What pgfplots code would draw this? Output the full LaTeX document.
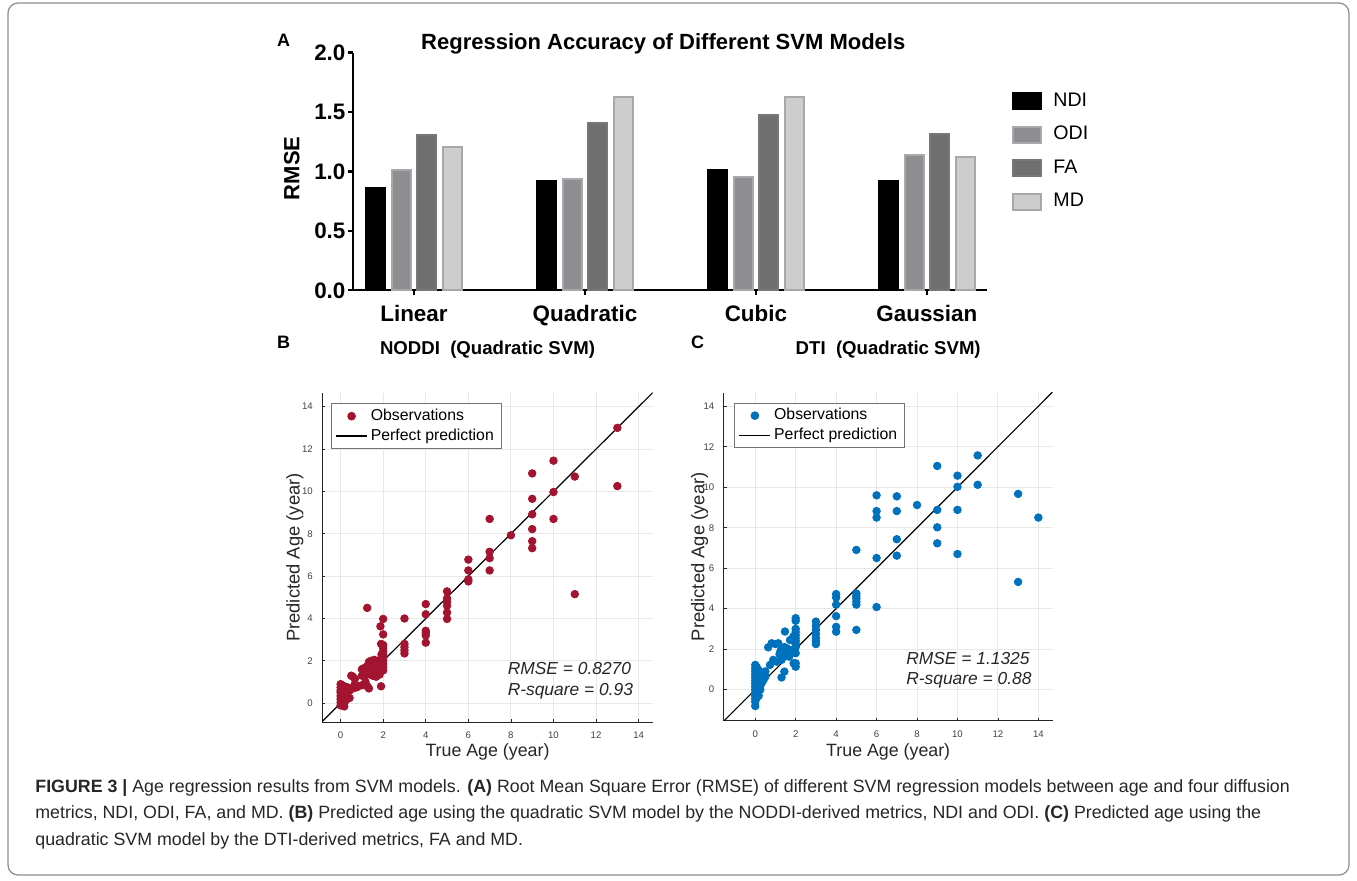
\documentclass[border=0pt]{standalone}
\usepackage{pgfplots}
\pgfplotsset{compat=1.18}
\usepackage{fontspec}
\setmainfont{Liberation Sans}
\definecolor{odi}{HTML}{8E8E92}
\definecolor{odiedge}{HTML}{A9A9AC}
\definecolor{fa}{HTML}{6F6F6F}
\definecolor{faedge}{HTML}{777777}
\definecolor{md}{HTML}{CDCDCD}
\definecolor{mdedge}{HTML}{A8A8A8}
\definecolor{nodred}{HTML}{A2142F}
\definecolor{dtiblue}{HTML}{0072BD}
\definecolor{axgray}{HTML}{262626}
\pgfplotsset{/pgf/number format/assume math mode=true,
  /pgfplots/ybar legend/.style={/pgfplots/legend image code/.code={\draw[##1] (0pt,-4pt) rectangle (14pt,4pt); \path (17.5pt,0pt);}},
  scatterax/.style={
    anchor=south west, scale only axis,
    axis x line*=bottom, axis y line*=left,
    axis line style={-, color=axgray, line width=0.5pt},
    xtick={0,2,...,14}, ytick={0,2,...,14},
    grid=major, major grid style={color=black!9, line width=0.45pt},
    tick align=inside, major tick length=1.5pt, tick style={axgray, line width=0.4pt},
    ticklabel style={font=\fontsize{4.8}{5}\selectfont, text=black!75},
    xticklabel style={yshift=-1.4pt}, yticklabel style={xshift=-1.2pt},
    xlabel style={font=\fontsize{8.9}{10}\selectfont, text=axgray},
    ylabel style={font=\fontsize{9.2}{10}\selectfont, text=axgray},
    title style={font=\fontsize{9.3}{10}\selectfont\bfseries, anchor=base, at={(axis description cs:0.5,1.081)}},
    legend cell align=left,
    legend image code/.code={\draw[mark repeat=2,mark phase=2,##1] plot coordinates {(0pt,0pt) (7.75pt,0pt) (15.5pt,0pt)};},
    legend style={anchor=north west, draw=black!55, line width=0.5pt, fill=white,
      font=\fontsize{7.9}{9}\selectfont, inner xsep=2pt, inner ysep=1pt, row sep=-0.5pt,
      nodes={inner sep=1.6pt}},
  }
}
\begin{document}
\begin{tikzpicture}
\path[use as bounding box] (0pt,0pt) rectangle (678.5pt,-440.5pt);
\draw[color=black!45, line width=0.6pt, rounded corners=5pt] (4pt,-1.5pt) rectangle (674.5pt,-437.5pt);

% ---------------- Panel A ----------------
\node[anchor=base west, font=\fontsize{9}{10}\selectfont\bfseries] at (135pt,-23.5pt) {A};
\node[anchor=base, font=\fontsize{11}{12}\selectfont\bfseries] at (331.65pt,-24.75pt) {Regression Accuracy of Different SVM Models};
\begin{axis}[
  at={(176.65pt,-145.15pt)}, anchor=south west, scale only axis,
  width=316.7pt, height=118.8pt,
  xmin=-0.355, xmax=3.35, ymin=0, ymax=2,
  axis x line*=bottom, axis y line*=left,
  axis line style={-, line width=1.2pt},
  xtick={0,1,2,3}, xticklabels={Linear,Quadratic,Cubic,Gaussian},
  ytick={0,0.5,1,1.5,2}, yticklabels={0.0,0.5,1.0,1.5,2.0},
  tick align=outside, major tick length=2.6pt, tick style={line width=1.2pt, black},
  ticklabel style={font=\fontsize{11.2}{12}\selectfont\bfseries},
  xticklabel style={yshift=-1.5pt}, yticklabel style={xshift=2.2pt},
  ylabel={RMSE}, ylabel style={font=\fontsize{11}{12}\selectfont\bfseries, at={(axis description cs:-0.097,0.513)}, anchor=center},
  ybar, bar width=0.111,
  legend style={at={(1.04,0.85)}, anchor=north west, draw=none, fill=none,
    font=\fontsize{9.8}{11}\selectfont, row sep=4.5pt, inner sep=0pt},
  legend cell align=left,
]
\addplot[fill=black, draw=black, line width=1pt, bar shift=-0.225] coordinates {(0,0.864) (1,0.920) (2,1.013) (3,0.920)};
\addplot[fill=odi, draw=odiedge, line width=1pt, bar shift=-0.075] coordinates {(0,1.013) (1,0.937) (2,0.954) (3,1.139)};
\addplot[fill=fa, draw=faedge, line width=1pt, bar shift=0.075] coordinates {(0,1.310) (1,1.406) (2,1.476) (3,1.318)};
\addplot[fill=md, draw=mdedge, line width=1pt, bar shift=0.225] coordinates {(0,1.204) (1,1.630) (2,1.630) (3,1.125)};
\legend{NDI,ODI,FA,MD}
\end{axis}

% ---------------- Panel B ----------------
\node[anchor=base west, font=\fontsize{9}{10}\selectfont\bfseries] at (135pt,-174.5pt) {B};
\begin{axis}[scatterax,
  at={(161.15pt,-361.15pt)}, width=165.2pt, height=164.8pt,
  xmin=-0.86, xmax=14.66, ymin=-0.9, ymax=14.66,
  title={NODDI~~(Quadratic SVM)},
  xlabel={True Age (year)}, xlabel style={at={(axis description cs:0.5,-0.105)}, anchor=base},
  ylabel={Predicted Age (year)}, ylabel style={at={(axis description cs:-0.083,0.5)}, anchor=center},
  legend style={at={(0.0263,0.968)}},
]
\addplot[only marks, mark=*, mark size=1.9pt, color=nodred] coordinates {
(0.0,0.9) (0.0,0.75) (0.0,0.6) (0.0,0.5) (0.0,0.35) (0.0,0.2) (0.0,0.05) (0.0,-0.1)
(0.08,0.85) (0.08,0.65) (0.08,0.45) (0.08,0.3) (0.08,0.1) (0.08,-0.05)
(0.17,0.8) (0.17,0.6) (0.17,0.4) (0.17,0.25) (0.17,0.0) (0.17,-0.15)
(0.25,0.7) (0.25,0.55) (0.25,0.35) (0.25,0.15)
(0.33,0.75) (0.33,0.5) (0.33,0.3) (0.42,0.6) (0.42,0.25)
(0.5,0.7) (0.5,1.3) (0.58,1.25) (0.58,0.7) (0.67,0.9) (0.67,1.15)
(0.75,0.75) (0.83,0.8) (1.0,1.6) (1.0,1.3) (1.0,0.85) (1.08,1.65)
(1.17,1.0) (1.25,4.5) (1.25,1.75) (1.25,1.35) (1.25,0.8) (1.33,1.95) (1.33,0.7)
(1.42,2.0) (1.42,1.5) (1.5,1.8) (1.5,1.3) (1.58,2.05) (1.58,1.4) (1.67,1.7) (1.67,1.25)
(1.75,2.0) (1.75,1.5) (1.83,1.35) (1.83,1.6) (1.87,3.63) (1.9,2.8) (1.9,0.8) (1.92,2.3)
(2,3.98) (2,3.25) (2,2.75) (2,2.6) (2,2.45) (2,2.3) (2,2.15) (2,2.0) (2,1.85) (2,1.7) (2,1.55)
(3,4.0) (3,2.8) (3,2.65) (3,2.5) (3,2.35)
(4,4.68) (4,4.2) (4,3.42) (4,3.32) (4,3.2) (4,2.86)
(5,5.28) (5,4.95) (5,4.78) (5,4.6) (5,4.28) (5,3.98)
(6,6.78) (6,6.27) (6,5.85) (6,5.75)
(7,8.7) (7,7.15) (7,6.85) (7,6.27)
(8,7.93)
(9,10.85) (9,9.65) (9,8.92) (9,8.22) (9,7.65) (9,7.32)
(10,11.45) (10,9.97) (10,8.7)
(11,10.7) (11,5.15)
(13,13.0) (13,10.25)
};
\addplot[black, line width=0.6pt] coordinates {(-0.9,-0.9) (14.66,14.66)};
\legend{Observations,Perfect prediction}
\node[anchor=base west, font=\fontsize{8.7}{10}\selectfont\itshape, text=axgray] at (axis cs:7.52,1.35) {RMSE = 0.8270};
\node[anchor=base west, font=\fontsize{8.7}{10}\selectfont\itshape, text=axgray] at (axis cs:7.52,0.36) {R-square = 0.93};
\end{axis}

% ---------------- Panel C ----------------
\node[anchor=base west, font=\fontsize{9}{10}\selectfont\bfseries] at (342pt,-174.5pt) {C};
\begin{axis}[scatterax,
  at={(361.85pt,-360.5pt)}, width=164.5pt, height=164.15pt,
  xmin=-1.56, xmax=14.71, ymin=-1.55, ymax=14.67,
  title={DTI~~(Quadratic SVM)},
  xlabel={True Age (year)}, xlabel style={at={(axis description cs:0.5,-0.1087)}, anchor=base},
  ylabel={Predicted Age (year)}, ylabel style={at={(axis description cs:-0.073,0.5)}, anchor=center},
  legend style={at={(0.0322,0.9695)}},
]
\addplot[only marks, mark=*, mark size=1.9pt, color=dtiblue] coordinates {
(0,1.22) (0,1.05) (0,0.9) (0,0.75) (0,0.6) (0,0.45) (0,0.3) (0,0.15) (0,0.0) (0,-0.15) (0,-0.3) (0,-0.45) (0,-0.6) (0,-0.81)
(0.08,1.1) (0.08,0.85) (0.08,0.65) (0.08,0.45) (0.08,0.25) (0.08,0.05) (0.08,-0.2) (0.08,-0.4)
(0.17,0.95) (0.17,0.7) (0.17,0.5) (0.17,0.3) (0.17,0.1) (0.17,-0.1) (0.17,-0.3)
(0.25,0.85) (0.25,0.6) (0.25,0.4) (0.25,0.2) (0.25,0.0)
(0.33,0.8) (0.33,0.55) (0.33,0.35) (0.42,0.75) (0.42,0.5) (0.5,0.9) (0.5,0.65)
(0.64,2.09) (0.73,1.22) (0.81,2.29) (0.89,1.47) (1.06,1.38) (1.14,2.29) (1.0,2.25)
(1.2,1.75) (1.25,1.9) (1.3,2.0) (1.3,1.47) (1.3,0.6) (1.39,1.63) (1.44,0.89) (1.45,2.1) (1.47,2.87)
(1.5,1.8) (1.55,2.05) (1.6,1.7) (1.68,1.63) (1.72,2.45) (1.75,1.9) (1.8,1.96) (1.88,2.62) (1.9,1.3)
(2,3.53) (2,3.4) (2,3.0) (2,2.85) (2,2.7) (2,2.55) (2,2.4) (2,2.25) (2,2.1) (2,1.8) (2,1.3) (2,1.13)
(3,3.36) (3,3.15) (3,2.95) (3,2.75) (3,2.55) (3,2.4) (3,2.25)
(4,4.72) (4,4.55) (4,4.2) (4,3.63) (4,3.1) (4,2.86)
(5,6.9) (5,4.75) (5,4.62) (5,4.5) (5,4.35) (5,4.2) (5,2.95)
(6,9.6) (6,8.82) (6,8.5) (6,6.5) (6,4.08)
(7,9.55) (7,8.82) (7,7.43) (7,6.62)
(8,9.12)
(9,11.05) (9,8.88) (9,8.02) (9,7.23)
(10,10.57) (10,10.02) (10,8.88) (10,6.7)
(11,11.57) (11,10.12)
(13,9.67) (13,5.32)
(14,8.5)
};
\addplot[black, line width=0.6pt] coordinates {(-1.56,-1.56) (14.71,14.71)};
\legend{Observations,Perfect prediction}
\node[anchor=base west, font=\fontsize{8.7}{10}\selectfont\itshape, text=axgray] at (axis cs:7.12,1.22) {RMSE = 1.1325};
\node[anchor=base west, font=\fontsize{8.7}{10}\selectfont\itshape, text=axgray] at (axis cs:7.12,0.23) {R-square = 0.88};
\end{axis}

% ---------------- Caption ----------------
\begin{scope}[every node/.style={anchor=base west, font=\fontsize{8.9}{10}\selectfont, inner sep=0pt, text=black!85}]
\node at (17.5pt,-396.25pt) {\textbf{FIGURE 3 |} Age regression results from SVM models. \textbf{(A)} Root Mean Square Error (RMSE) of different SVM regression models between age and four diffusion};
\node at (17.5pt,-409.25pt) {metrics, NDI, ODI, FA, and MD. \textbf{(B)} Predicted age using the quadratic SVM model by the NODDI-derived metrics, NDI and ODI. \textbf{(C)} Predicted age using the};
\node at (17.5pt,-422.75pt) {quadratic SVM model by the DTI-derived metrics, FA and MD.};
\end{scope}
\end{tikzpicture}
\end{document}
